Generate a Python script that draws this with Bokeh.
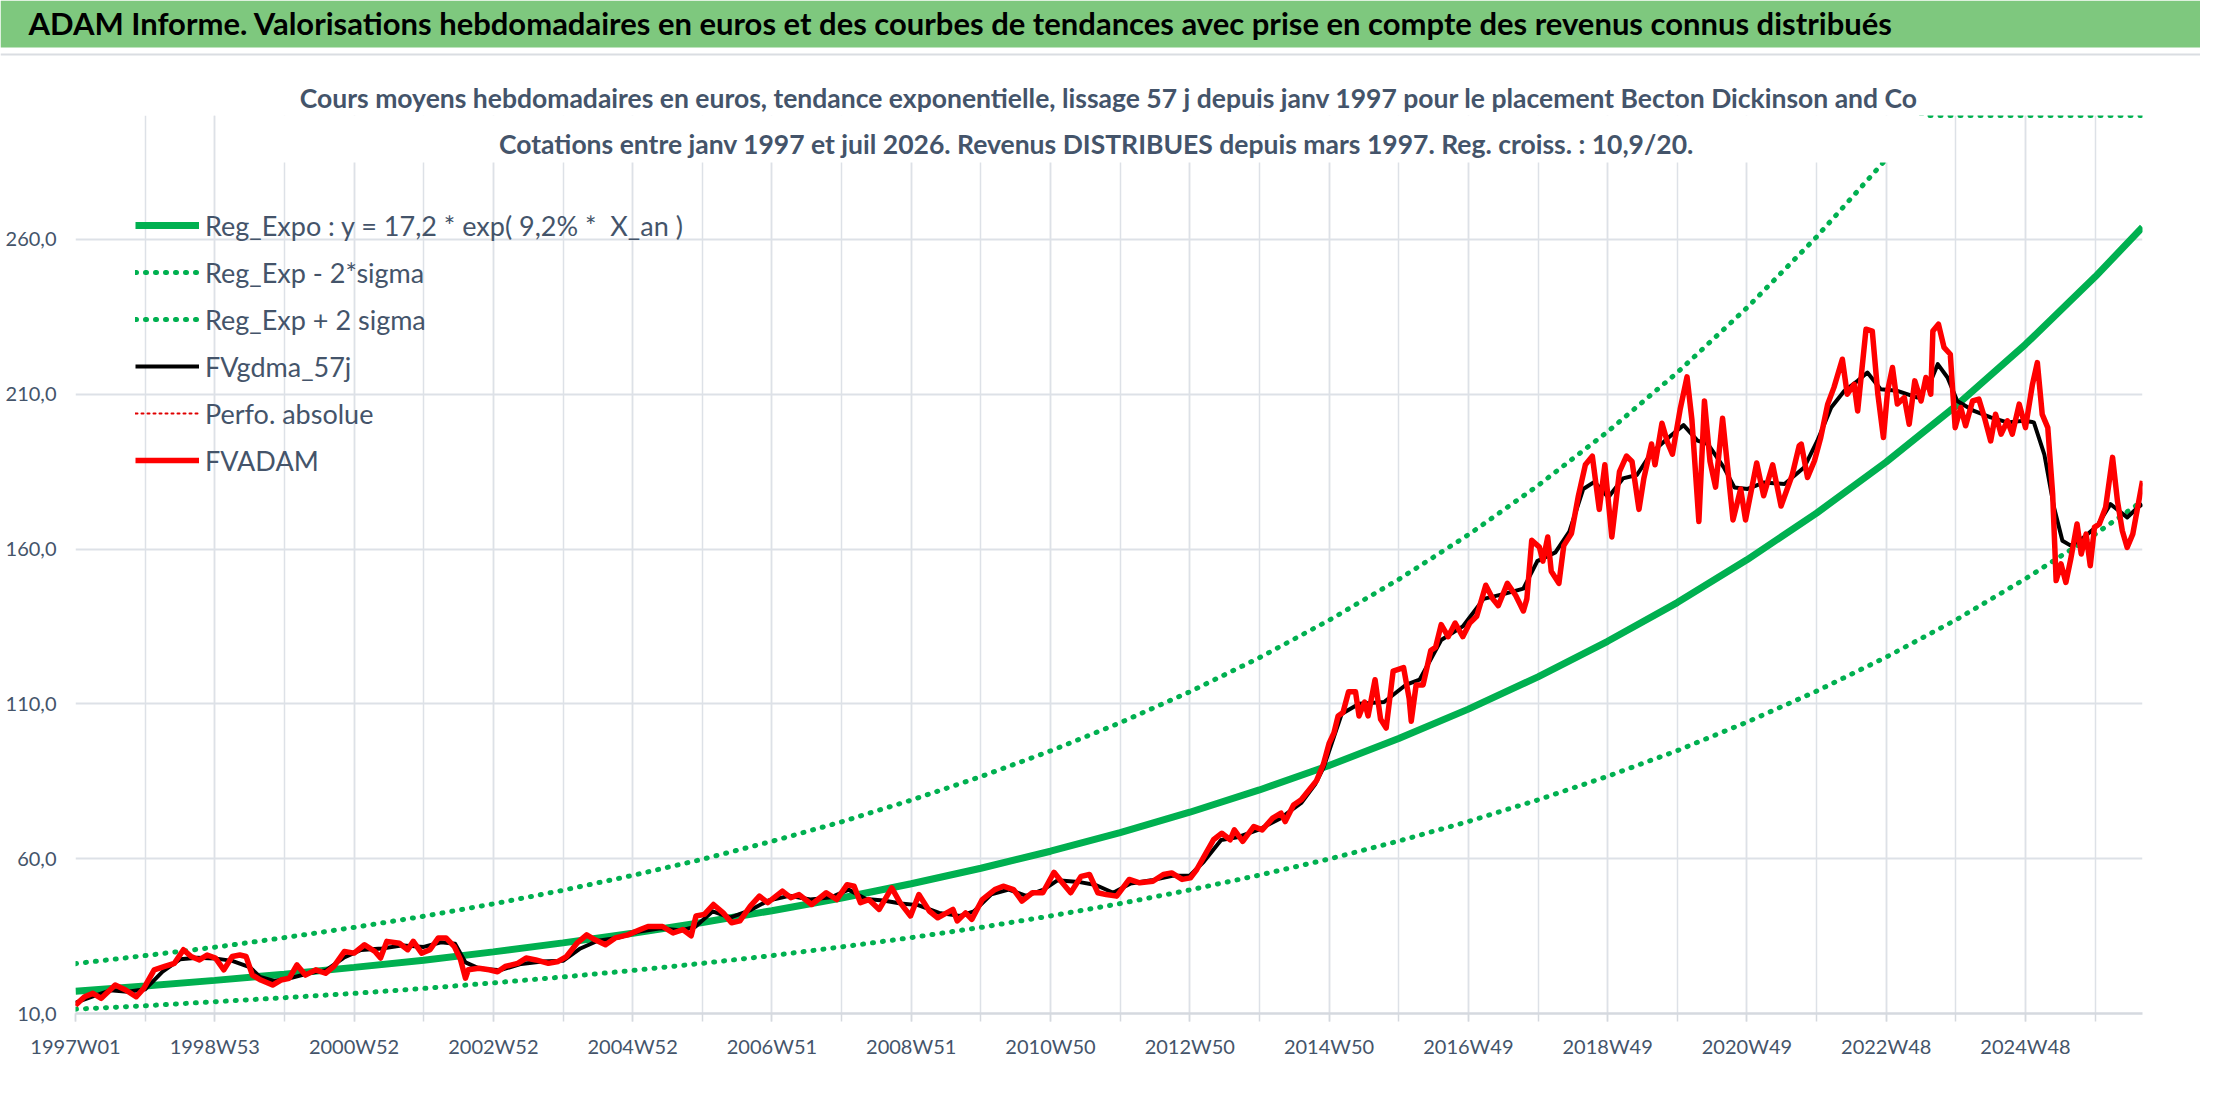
import numpy as np
from bokeh.plotting import figure
from bokeh.models import Range1d, FixedTicker, Legend, LegendItem, Label, BoxAnnotation
from bokeh.layouts import column
from bokeh.embed import file_html
from bokeh.resources import INLINE

# ---------------- texts ----------------
TITLE = ("ADAM Informe. Valorisations hebdomadaires en euros et des courbes de tendances "
         "avec prise en compte des revenus connus distribués")
SUB1 = ("Cours moyens hebdomadaires en euros, tendance exponentielle, lissage 57 j depuis "
        "janv 1997 pour le placement Becton Dickinson and Co")
SUB2 = ("Cotations entre janv 1997 et juil 2026. Revenus DISTRIBUES depuis mars 1997. "
        "Reg. croiss. : 10,9/20.")

legend_labels = ["Reg_Expo : y = 17,2 * exp( 9,2% *  X_an )", "Reg_Exp - 2*sigma",
                 "Reg_Exp + 2 sigma", "FVgdma_57j", "Perfo. absolue", "FVADAM"]

x_tick_labels = ["1997W01", "1998W53", "2000W52", "2002W52", "2004W52", "2006W51",
                 "2008W51", "2010W50", "2012W50", "2014W50", "2016W49", "2018W49",
                 "2020W49", "2022W48", "2024W48"]
y_tick_values = [10, 60, 110, 160, 210, 260]
y_tick_labels = ["10,0", "60,0", "110,0", "160,0", "210,0", "260,0"]

# ---------------- data ----------------
# trend curves, sampled once a year
reg_t = [1997, 1998, 1999, 2000, 2001, 2002, 2003, 2004, 2005, 2006, 2007, 2008, 2009,
         2010, 2011, 2012, 2013, 2014, 2015, 2016, 2017, 2018, 2019, 2020, 2021, 2022,
         2023, 2024, 2025, 2026, 2026.68]
reg_v = [17.2, 18.9, 20.7, 22.7, 24.9, 27.2, 29.9, 32.8, 35.9, 39.4, 43.2, 47.3, 51.9,
         56.9, 62.4, 68.4, 75.0, 82.2, 90.1, 98.8, 108.3, 118.7, 130.2, 142.7, 156.5,
         171.6, 188.1, 206.2, 226.1, 247.9, 263.9]
reg_lo_v = [11.4, 12.5, 13.8, 15.1, 16.5, 18.1, 19.9, 21.8, 23.9, 26.2, 28.7, 31.5, 34.5,
            37.8, 41.5, 45.5, 49.9, 54.7, 59.9, 65.7, 72.0, 79.0, 86.6, 94.9, 104.1,
            114.1, 125.1, 137.1, 150.4, 164.8, 175.5]
reg_hi_t = [1997, 1998, 1999, 2000, 2001, 2002, 2003, 2004, 2005, 2006, 2007, 2008, 2009,
            2010, 2011, 2012, 2013, 2014, 2015, 2016, 2017, 2018, 2019, 2020, 2021, 2022,
            2023, 2023.52, 2024, 2025, 2026, 2026.68]
reg_hi_v = [26.1, 28.7, 31.4, 34.5, 37.8, 41.4, 45.4, 49.8, 54.6, 59.8, 65.6, 71.9, 78.9,
            86.5, 94.8, 103.9, 113.9, 124.9, 137.0, 150.2, 164.6, 180.5, 197.9, 217.0,
            237.9, 260.8, 285.9, 300.0, 300.0, 300.0, 300.0, 300.0]

fvadam_t = [
    1997.00, 1997.13, 1997.25, 1997.37, 1997.57, 1997.72, 1997.87, 1997.98, 1998.13, 1998.28,
    1998.42, 1998.55, 1998.66, 1998.78, 1998.89, 1999.01, 1999.13, 1999.25, 1999.36, 1999.45,
    1999.54, 1999.66, 1999.83, 1999.95, 2000.07, 2000.18, 2000.30, 2000.45, 2000.59, 2000.71,
    2000.86, 2001.00, 2001.15, 2001.30, 2001.38, 2001.47, 2001.65, 2001.77, 2001.85, 2001.97,
    2002.09, 2002.21, 2002.32, 2002.44, 2002.53, 2002.60, 2002.64, 2002.79, 2002.94, 2003.06,
    2003.17, 2003.35, 2003.47, 2003.61, 2003.79, 2003.93, 2004.05, 2004.20, 2004.34, 2004.46,
    2004.61, 2004.75, 2004.93, 2005.11, 2005.22, 2005.43, 2005.58, 2005.72, 2005.84, 2005.91,
    2006.03, 2006.16, 2006.30, 2006.42, 2006.54, 2006.69, 2006.82, 2006.94, 2007.15, 2007.27,
    2007.39, 2007.57, 2007.78, 2007.93, 2008.08, 2008.18, 2008.27, 2008.39, 2008.54, 2008.72,
    2008.84, 2008.99, 2009.11, 2009.26, 2009.38, 2009.60, 2009.66, 2009.78, 2009.87, 2010.02,
    2010.20, 2010.32, 2010.47, 2010.59, 2010.74, 2010.89, 2011.05, 2011.17, 2011.29, 2011.44,
    2011.56, 2011.68, 2011.80, 2011.95, 2012.13, 2012.28, 2012.47, 2012.62, 2012.74, 2012.89,
    2013.01, 2013.10, 2013.22, 2013.34, 2013.46, 2013.58, 2013.64, 2013.76, 2013.92, 2014.04,
    2014.19, 2014.31, 2014.37, 2014.49, 2014.60, 2014.82, 2014.92, 2015.00, 2015.07, 2015.13,
    2015.20, 2015.28, 2015.38, 2015.43, 2015.51, 2015.56, 2015.66, 2015.74, 2015.82, 2015.92,
    2016.07, 2016.15, 2016.18, 2016.25, 2016.35, 2016.46, 2016.53, 2016.61, 2016.71, 2016.81,
    2016.92, 2017.02, 2017.12, 2017.25, 2017.35, 2017.43, 2017.56, 2017.68, 2017.79, 2017.84,
    2017.91, 2018.02, 2018.07, 2018.14, 2018.19, 2018.30, 2018.37, 2018.48, 2018.58, 2018.68,
    2018.78, 2018.88, 2018.96, 2019.06, 2019.17, 2019.27, 2019.35, 2019.45, 2019.52, 2019.63,
    2019.68, 2019.78, 2019.86, 2019.93, 2020.04, 2020.14, 2020.21, 2020.31, 2020.39, 2020.47,
    2020.55, 2020.65, 2020.80, 2020.91, 2020.98, 2021.14, 2021.24, 2021.37, 2021.49, 2021.65,
    2021.75, 2021.78, 2021.87, 2021.97, 2022.06, 2022.16, 2022.25, 2022.37, 2022.44, 2022.54,
    2022.59, 2022.71, 2022.80, 2022.88, 2022.96, 2023.02, 2023.09, 2023.16, 2023.26, 2023.33,
    2023.41, 2023.50, 2023.57, 2023.64, 2023.67, 2023.75, 2023.83, 2023.92, 2023.99, 2024.07,
    2024.14, 2024.24, 2024.33, 2024.41, 2024.50, 2024.57, 2024.65, 2024.74, 2024.81, 2024.91,
    2025.00, 2025.10, 2025.17, 2025.24, 2025.32, 2025.39, 2025.44, 2025.51, 2025.58, 2025.65,
    2025.74, 2025.80, 2025.87, 2025.93, 2025.99, 2026.06, 2026.15, 2026.25, 2026.32, 2026.39,
    2026.46, 2026.54, 2026.61, 2026.68]
fvadam_v = [
    12.7, 15.4, 16.5, 14.9, 19.2, 17.6, 15.4, 18.1, 24.1, 25.2,
    26.2, 30.6, 28.4, 27.3, 28.9, 27.9, 24.1, 28.4, 28.9, 28.4,
    22.4, 20.8, 19.2, 20.8, 21.4, 25.7, 22.4, 24.1, 23.0, 25.2,
    30.0, 29.5, 32.2, 30.0, 27.9, 33.3, 32.7, 30.6, 33.3, 29.5,
    30.6, 34.4, 34.4, 31.6, 27.3, 21.4, 24.1, 24.6, 24.1, 23.5,
    25.2, 26.2, 27.9, 27.3, 26.2, 26.8, 28.4, 32.7, 35.4, 33.8,
    32.2, 34.4, 35.4, 37.1, 38.1, 38.1, 36.0, 37.1, 35.1, 41.5,
    42.0, 45.2, 42.5, 39.3, 39.9, 44.7, 47.9, 45.8, 49.5, 47.4,
    48.4, 45.2, 49.0, 46.8, 51.6, 51.1, 45.8, 46.8, 43.6, 50.6,
    45.8, 41.5, 48.4, 43.1, 40.9, 43.6, 39.9, 42.5, 40.4, 46.8,
    50.0, 51.1, 50.0, 46.3, 49.0, 49.0, 55.6, 52.2, 49.0, 54.3,
    54.9, 49.0, 48.4, 47.9, 53.3, 52.2, 52.7, 54.9, 55.4, 53.3,
    53.8, 56.5, 61.3, 66.1, 68.2, 66.1, 69.3, 65.6, 70.4, 69.3,
    73.1, 74.7, 72.0, 77.3, 79.0, 85.2, 90.6, 97.2, 100.6, 106.1,
    107.2, 113.9, 113.9, 106.1, 110.6, 106.1, 117.8, 105.0, 102.2, 120.6,
    121.7, 111.7, 104.4, 116.1, 116.1, 127.2, 128.3, 135.6, 131.7, 136.1,
    131.7, 136.1, 138.3, 148.3, 143.9, 141.7, 148.9, 145.0, 140.0, 143.9,
    162.8, 160.6, 156.1, 163.9, 152.8, 148.9, 161.1, 165.0, 177.2, 187.2,
    190.0, 172.8, 187.2, 163.9, 185.0, 190.0, 188.3, 172.8, 182.8, 193.9,
    187.2, 200.6, 194.4, 190.6, 205.0, 215.6, 201.7, 168.9, 207.8, 188.3,
    180.0, 202.2, 169.4, 179.4, 169.4, 187.8, 177.2, 187.2, 173.9, 183.9,
    193.3, 193.9, 183.1, 188.5, 196.0, 206.8, 212.2, 221.3, 210.0, 213.2,
    204.6, 231.0, 230.4, 210.0, 196.0, 211.1, 218.6, 206.8, 208.9, 200.3,
    214.3, 207.8, 215.4, 210.0, 230.4, 232.6, 225.1, 222.9, 199.2, 205.7,
    199.8, 207.8, 208.4, 202.5, 194.9, 203.5, 197.1, 201.4, 197.1, 206.8,
    199.2, 213.2, 220.2, 203.5, 199.2, 177.7, 149.8, 155.2, 149.2, 156.8,
    168.1, 158.4, 164.8, 154.6, 167.0, 168.1, 173.4, 189.6, 175.6, 165.9,
    160.5, 164.8, 173.4, 182.0]

fvgdma_t = [
    1997.00, 1997.25, 1997.50, 1997.75, 1998.00, 1998.25, 1998.50, 1998.75, 1999.00, 1999.25,
    1999.50, 1999.65, 1999.85, 2000.10, 2000.35, 2000.60, 2000.85, 2001.10, 2001.40, 2001.70,
    2002.00, 2002.25, 2002.45, 2002.60, 2002.80, 2003.10, 2003.40, 2003.70, 2004.00, 2004.25,
    2004.50, 2004.80, 2005.10, 2005.40, 2005.70, 2005.90, 2006.15, 2006.40, 2006.70, 2006.95,
    2007.25, 2007.55, 2007.85, 2008.10, 2008.35, 2008.60, 2008.85, 2009.10, 2009.40, 2009.70,
    2009.90, 2010.15, 2010.40, 2010.65, 2010.90, 2011.10, 2011.40, 2011.65, 2011.90, 2012.15,
    2012.45, 2012.75, 2013.00, 2013.20, 2013.45, 2013.70, 2014.00, 2014.30, 2014.60, 2014.80,
    2014.92, 2015.18, 2015.43, 2015.79, 2016.10, 2016.30, 2016.61, 2016.92, 2017.22, 2017.53,
    2017.79, 2017.99, 2018.25, 2018.45, 2018.65, 2018.81, 2019.01, 2019.22, 2019.42, 2019.63,
    2019.88, 2020.09, 2020.29, 2020.44, 2020.67, 2020.82, 2021.01, 2021.25, 2021.54, 2021.82,
    2022.01, 2022.21, 2022.40, 2022.59, 2022.73, 2022.92, 2023.16, 2023.45, 2023.64, 2023.74,
    2023.88, 2024.02, 2024.26, 2024.50, 2024.74, 2024.98, 2025.12, 2025.27, 2025.41, 2025.53,
    2025.65, 2025.84, 2026.03, 2026.22, 2026.46, 2026.61, 2026.68]
fvgdma_v = [
    13.5, 15.5, 17.5, 17.0, 17.8, 23.5, 27.5, 28.0, 27.8, 27.0,
    25.0, 21.8, 20.5, 21.5, 23.0, 24.0, 28.0, 30.5, 31.0, 32.0,
    31.5, 33.0, 32.5, 26.5, 24.5, 24.0, 26.0, 26.8, 27.0, 31.0,
    33.5, 34.5, 36.5, 37.5, 36.8, 38.0, 43.0, 41.0, 43.5, 46.5,
    48.0, 46.8, 47.5, 50.0, 47.0, 46.5, 45.5, 45.0, 42.5, 41.5,
    43.0, 48.5, 50.0, 48.0, 50.0, 53.0, 52.5, 51.5, 49.0, 52.0,
    53.0, 54.5, 54.5, 59.0, 66.0, 67.0, 69.5, 73.0, 78.0, 84.0,
    89.4, 106.7, 110.0, 110.6, 116.1, 117.8, 130.6, 135.0, 143.9, 145.6,
    147.2, 156.1, 158.9, 165.6, 179.4, 181.7, 176.7, 182.8, 183.9, 191.1,
    196.1, 200.0, 195.0, 193.9, 186.3, 179.9, 179.4, 181.5, 181.0, 186.3,
    194.9, 205.7, 211.1, 214.3, 217.0, 211.6, 211.1, 208.9, 214.3, 219.7,
    215.4, 207.8, 204.6, 202.5, 200.9, 201.4, 200.9, 190.6, 173.4, 162.7,
    161.1, 163.8, 167.5, 174.5, 170.2, 173.4, 174.5]

# ---------------- helpers ----------------
FIRST_YEAR = 1997.0
WEEKS_PER_YEAR = 52.0


def to_week(t):
    return (np.asarray(t, dtype=float) - FIRST_YEAR) * WEEKS_PER_YEAR


def no_frame_align(fig):
    try:
        fig.frame_align = False
    except Exception:
        pass


FONT = "Lato"
GRID = "#DDE1E7"
TXT = "#44546A"
GREEN = "#00B050"
BAR = "#7EC87E"

# ---------------- title bar (green band + thin grey rule below it) ----------------
bar = figure(width=2200, height=56, x_range=Range1d(0, 1), y_range=Range1d(0, 1),
             x_axis_type=None, y_axis_type=None, output_backend="svg",
             toolbar_location=None, min_border=0, background_fill_color="white",
             border_fill_color="white", outline_line_color=None)
no_frame_align(bar)
bar.add_layout(BoxAnnotation(left=0, right=2200, bottom=9, top=56,
                             left_units="screen", right_units="screen",
                             bottom_units="screen", top_units="screen",
                             fill_color=BAR, fill_alpha=1.0, line_color=None))
bar.add_layout(BoxAnnotation(left=0, right=2200, bottom=1, top=3,
                             left_units="screen", right_units="screen",
                             bottom_units="screen", top_units="screen",
                             fill_color="#DADDE2", fill_alpha=1.0, line_color=None))
bar.add_layout(Label(x=28, y=34, x_units="screen", y_units="screen", text=TITLE,
                     text_font=FONT, text_font_style="bold", text_font_size="31px",
                     text_color="black", text_baseline="middle", text_align="left"))

# ---------------- main chart ----------------
x_end = float(to_week(fvadam_t[-1]))
p = figure(width=2200, height=1034, x_range=Range1d(0, x_end), y_range=Range1d(10, 300),
           output_backend="svg", toolbar_location=None,
           min_border_left=75, min_border_right=58, min_border_top=59, min_border_bottom=77,
           background_fill_color="white", border_fill_color="white",
           outline_line_color=None)
no_frame_align(p)

# first line of the chart title, above the plot area
p.title.text = SUB1
p.title.align = "center"
p.title.offset = -12
p.title.standoff = 3
p.title.text_font = FONT
p.title.text_font_size = "26.5px"
p.title.text_font_style = "bold"
p.title.text_color = TXT

major = [i * 104 for i in range(len(x_tick_labels))]
minor = [i * 52 for i in range(int(x_end // 52) + 1)]
xt = FixedTicker(ticks=major, minor_ticks=minor)
p.xaxis.ticker = xt
p.xgrid.ticker = xt
p.xaxis.major_label_overrides = {m: lab for m, lab in zip(major, x_tick_labels)}
p.xgrid.grid_line_color = GRID
p.xgrid.grid_line_width = 1.5
p.xgrid.minor_grid_line_color = GRID
p.xgrid.minor_grid_line_width = 1.5
p.xaxis.axis_line_color = "#D5D9DF"
p.xaxis.axis_line_width = 2.5
p.xaxis.major_tick_line_color = "#D5D9DF"
p.xaxis.minor_tick_line_color = "#D5D9DF"
p.xaxis.major_tick_line_width = 1.5
p.xaxis.minor_tick_line_width = 1.5
p.xaxis.major_tick_out = 8
p.xaxis.major_tick_in = 0
p.xaxis.minor_tick_out = 8
p.xaxis.minor_tick_in = 0
p.xaxis.major_label_standoff = 12
p.xaxis.major_label_text_font = FONT
p.xaxis.major_label_text_font_size = "20px"
p.xaxis.major_label_text_color = TXT

yt = FixedTicker(ticks=y_tick_values, minor_ticks=[])
p.yaxis.ticker = yt
p.ygrid.ticker = yt
p.yaxis.major_label_overrides = {v: lab for v, lab in zip(y_tick_values, y_tick_labels)}
p.ygrid.grid_line_color = GRID
p.ygrid.grid_line_width = 2
p.yaxis.axis_line_color = None
p.yaxis.major_tick_line_color = None
p.yaxis.minor_tick_line_color = None
p.yaxis.major_tick_out = 0
p.yaxis.major_label_standoff = 19
p.yaxis.major_label_text_font = FONT
p.yaxis.major_label_text_font_size = "20px"
p.yaxis.major_label_text_color = TXT

r_reg = p.line(to_week(reg_t), reg_v, line_color=GREEN, line_width=7)
r_lo = p.line(to_week(reg_t), reg_lo_v, line_color=GREEN, line_width=5,
              line_dash="1 9", line_cap="round")
r_hi = p.line(to_week(reg_hi_t), reg_hi_v, line_color=GREEN, line_width=5,
              line_dash="1 9", line_cap="round")
r_gd = p.line(to_week(fvgdma_t), fvgdma_v, line_color="black", line_width=4,
              line_join="round")
r_pf = p.line(to_week(fvadam_t), fvadam_v, line_color="#E00000", line_width=2,
              line_dash="2 4", line_cap="round")
r_fv = p.line(to_week(fvadam_t), fvadam_v, line_color="#FF0000", line_width=5.5,
              line_join="round")

legend = Legend(items=[LegendItem(label=lab, renderers=[r]) for lab, r in
                       zip(legend_labels, [r_reg, r_lo, r_hi, r_gd, r_pf, r_fv])],
                location=(60, 533), orientation="vertical",
                label_text_font=FONT, label_text_font_size="27px", label_text_color=TXT,
                glyph_width=64, glyph_height=40, label_height=40, label_standoff=6,
                spacing=7, padding=0, margin=0,
                background_fill_alpha=0, border_line_color=None)
p.add_layout(legend)

# white box behind the chart's title (hides grid and curve there)
p.add_layout(BoxAnnotation(left=200, right=1850, bottom=851, top=940,
                           left_units="screen", right_units="screen",
                           bottom_units="screen", top_units="screen",
                           fill_color="white", fill_alpha=1.0, line_color=None))
p.add_layout(Label(x=1021, y=870, x_units="screen", y_units="screen", text=SUB2,
                   text_font=FONT, text_font_size="26.5px", text_font_style="bold",
                   text_color=TXT, text_align="center", text_baseline="middle"))

layout = column(bar, p, spacing=0)
open("out.html", "w").write(file_html(layout, INLINE))
